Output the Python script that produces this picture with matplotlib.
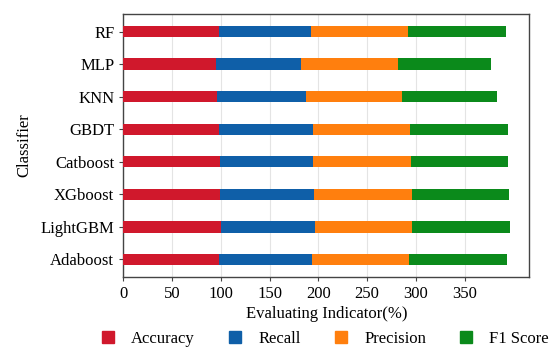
import numpy as np
import matplotlib
matplotlib.use("Agg")
import matplotlib.pyplot as plt
from matplotlib.lines import Line2D

plt.rcParams["font.family"] = ["Liberation Serif", "DejaVu Serif"]

classifiers = ["RF", "MLP", "KNN", "GBDT", "Catboost", "XGboost", "LightGBM", "Adaboost"]
accuracy = [98.6, 95.2, 95.9, 98.6, 99.3, 99.3, 100.0, 98.6]
recall = [94.2, 86.7, 91.5, 95.9, 95.6, 96.4, 96.6, 94.6]
precision = [99.4, 99.9, 98.3, 99.7, 100.0, 100.0, 100.0, 99.9]
f1_score = [100.0, 95.6, 97.6, 100.0, 100.0, 99.7, 100.0, 100.0]

metrics = ["Accuracy", "Recall", "Precision", "F1 Score"]
colors = ["#d0182c", "#0f5fa8", "#ff7f0e", "#0b8a1b"]

fig = plt.figure(figsize=(5.59, 3.5), dpi=100)
ax = fig.add_axes([0.2206, 0.2086, 0.7263, 0.7514])

# top-to-bottom order as in the picture
y = np.arange(len(classifiers))[::-1]
left = np.zeros(len(classifiers))
for name, vals, c in zip(metrics, [accuracy, recall, precision, f1_score], colors):
    vals = np.array(vals)
    ax.barh(y, vals, left=left, height=0.35, color=c, label=name, zorder=3)
    left += vals

ax.set_yticks(y)
ax.set_yticklabels(classifiers)
ax.set_xticks(np.arange(0, 351, 50))
ax.tick_params(labelsize=12, length=3, color="#444444")
ax.grid(axis="x", color="#e4e4e4", linewidth=0.8, zorder=0)
for s in ax.spines.values():
    s.set_color("#444444")
    s.set_linewidth(1.0)

ax.set_xlabel("Evaluating Indicator(%)", fontsize=12, labelpad=3)
ax.set_ylabel("Classifier", fontsize=12, labelpad=6)

handles = [Line2D([], [], linestyle="none", marker="s", markersize=9,
                  markerfacecolor=c, markeredgecolor=c) for c in colors]
fig.legend(handles, metrics, loc="center", bbox_to_anchor=(0.58, 0.032),
           ncol=4, frameon=False, fontsize=12, handlelength=1.0,
           handletextpad=0.9, columnspacing=1.9)

fig.savefig("out.png", dpi=100)
